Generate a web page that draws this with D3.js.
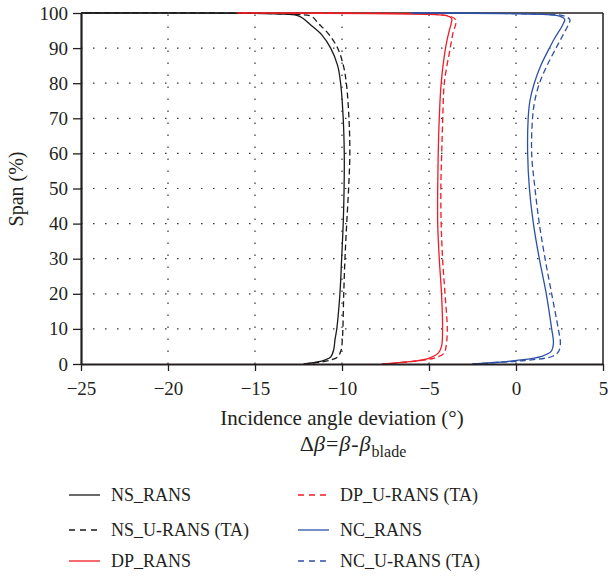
<!DOCTYPE html>
<html><head><meta charset="utf-8">
<script src="https://cdn.jsdelivr.net/npm/d3@7"></script>
<style>body{margin:0;background:#fff}svg{display:block}text{font-family:"Liberation Serif","Times New Roman",serif;fill:#231f20}</style>
</head><body><svg id="c" width="608" height="578"></svg>
<script>
const xTicks = [-25, -20, -15, -10, -5, 0, 5];
const yTicks = [0, 10, 20, 30, 40, 50, 60, 70, 80, 90, 100];

const nsRansSpan = [0, 0.5, 1.2, 2, 4, 7, 10, 20, 30, 40, 50, 60, 70, 80, 85, 90, 93.7, 96.6, 98.5, 99.3, 99.7, 100];
const nsRansVal  = [-12.2, -11.5, -10.95, -10.65, -10.48, -10.4, -10.3, -10.12, -10.02, -9.93, -9.88, -9.87, -9.93, -10.08, -10.25, -10.65, -11.15, -11.8, -12.25, -12.6, -13.5, -25];
const nsUSpan = [0, 0.5, 1.2, 2, 4, 7, 10, 20, 30, 40, 50, 60, 70, 80, 85, 90, 94.2, 97, 99, 99.6, 100];
const nsUVal  = [-12.2, -11.3, -10.6, -10.25, -10.05, -9.98, -9.95, -9.9, -9.83, -9.73, -9.62, -9.55, -9.6, -9.75, -9.92, -10.25, -10.8, -11.35, -11.75, -12.6, -25];
const dpRansSpan = [0, 0.5, 0.9, 1.7, 3.1, 5, 10, 20, 30, 40, 50, 60, 70, 80, 90, 94.7, 97.1, 98.5, 99.2, 99.6, 100];
const dpRansVal  = [-7.7, -6.5, -5.7, -4.98, -4.47, -4.28, -4.22, -4.28, -4.41, -4.5, -4.5, -4.47, -4.41, -4.3, -4.05, -3.85, -3.72, -3.7, -3.95, -5, -16];
const dpUSpan = [0, 0.5, 1, 1.7, 3, 5, 10, 20, 30, 40, 50, 60, 70, 80, 90, 94.7, 97.1, 98.2, 99, 99.6, 100];
const dpUVal  = [-7.7, -6.4, -5.5, -4.7, -4.15, -4.02, -3.95, -4.08, -4.22, -4.3, -4.32, -4.27, -4.21, -4.12, -3.78, -3.6, -3.45, -3.48, -3.75, -4.6, -16];
const ncRansSpan = [0, 0.5, 1, 2.2, 3.6, 6, 10, 20, 30, 40, 50, 60, 70, 75, 80, 85, 90, 92.8, 96.6, 98.2, 99.1, 99.6, 100];
const ncRansVal  = [-2.5, -1.0, 0.04, 1.48, 2.02, 2.15, 2.05, 1.74, 1.34, 1.0, 0.77, 0.67, 0.7, 0.8, 1.05, 1.42, 1.92, 2.22, 2.68, 2.8, 2.5, 1.5, -6];
const ncUSpan = [0, 0.5, 1, 2.2, 3.6, 6, 10, 20, 30, 40, 50, 60, 70, 75, 80, 85, 90, 92.8, 96.6, 98, 99.1, 99.6, 100];
const ncUVal  = [-2.5, -0.9, 0.5, 2.1, 2.45, 2.55, 2.43, 2.05, 1.67, 1.34, 1.09, 0.9, 0.95, 1.08, 1.35, 1.78, 2.3, 2.6, 3.0, 3.1, 2.8, 1.8, -6];

const seriesNames = ["NS_RANS", "NS_U-RANS (TA)", "DP_RANS", "DP_U-RANS (TA)", "NC_RANS", "NC_U-RANS (TA)"];
const seriesSpans = [nsRansSpan, nsUSpan, dpRansSpan, dpUSpan, ncRansSpan, ncUSpan];
const seriesVals = [nsRansVal, nsUVal, dpRansVal, dpUVal, ncRansVal, ncUVal];
const seriesColors = ["#1a1a1a", "#1a1a1a", "#ee1c25", "#ee1c25", "#2d4fa6", "#2d4fa6"];
const seriesDashed = [false, true, false, true, false, true];

const svg = d3.select("#c");
const L = 81, R = 603, T = 13, B = 364;
const x = d3.scaleLinear().domain([-25, 5]).range([L, R]);
const y = d3.scaleLinear().domain([0, 100]).range([B, T]);

// grid
const g = svg.append("g");
g.selectAll(".gx").data(xTicks.filter(d => d > -25 && d < 5)).join("line")
  .attr("x1", d => x(d)).attr("x2", d => x(d)).attr("y1", B).attr("y2", T)
  .attr("stroke", "#333").attr("stroke-width", 1.2).attr("stroke-dasharray", "1.5,10.5");
g.selectAll(".gy").data(yTicks.filter(d => d > 0 && d < 100)).join("line")
  .attr("x1", L).attr("x2", R).attr("y1", d => y(d)).attr("y2", d => y(d))
  .attr("stroke", "#333").attr("stroke-width", 1.2).attr("stroke-dasharray", "1.5,10.5");

// frame top/right
svg.append("line").attr("x1", L).attr("x2", R).attr("y1", T).attr("y2", T).attr("stroke", "#231f20").attr("stroke-width", 1.5);
svg.append("line").attr("x1", R).attr("x2", R).attr("y1", T).attr("y2", B).attr("stroke", "#231f20").attr("stroke-width", 1.5);

// curves
const line = d3.line().curve(d3.curveCatmullRom.alpha(0.5));
seriesNames.forEach((n, i) => {
  const pts = seriesSpans[i].map((s, j) => [x(seriesVals[i][j]), y(s)]);
  svg.append("path").attr("d", line(pts)).attr("fill", "none")
    .attr("stroke", seriesColors[i]).attr("stroke-width", 1.3)
    .attr("stroke-dasharray", seriesDashed[i] ? "6,3.5" : null);
});

// axes
const fmt = d => d < 0 ? "\u2212" + Math.abs(d) : String(d);
const xa = svg.append("g").attr("transform", `translate(0,${B})`)
  .call(d3.axisBottom(x).tickValues(xTicks).tickFormat(fmt).tickSize(7).tickSizeOuter(0));
const ya = svg.append("g").attr("transform", `translate(${L},0)`)
  .call(d3.axisLeft(y).tickValues(yTicks).tickSize(8).tickSizeOuter(0));
[xa, ya].forEach(a => {
  a.select(".domain").attr("stroke", "#231f20").attr("stroke-width", 2.2);
  a.selectAll(".tick line").attr("stroke", "#231f20").attr("stroke-width", 1.3);
  a.selectAll("text").attr("font-size", 19).attr("font-family", '"Liberation Serif",serif').attr("fill", "#231f20");
});
xa.selectAll("text").attr("dy", "1.1em");
ya.selectAll("text").attr("x", -13);

// titles
svg.append("text").attr("transform", "translate(23,189) rotate(-90)").attr("text-anchor", "middle")
  .attr("font-size", 20).text("Span (%)");
svg.append("text").attr("x", 342).attr("y", 425).attr("text-anchor", "middle")
  .attr("font-size", 21).text("Incidence angle deviation (°)");
const t2 = svg.append("text").attr("x", 353).attr("y", 451).attr("text-anchor", "middle").attr("font-size", 22);
t2.append("tspan").text("\u0394");
t2.append("tspan").attr("font-style", "italic").text("\u03b2");
t2.append("tspan").attr("dx", 1).text("=");
t2.append("tspan").attr("dx", 1).attr("font-style", "italic").text("\u03b2");
t2.append("tspan").attr("dx", 1).text("-");
t2.append("tspan").attr("dx", 1).attr("font-style", "italic").text("\u03b2");
t2.append("tspan").attr("font-size", 16).attr("dy", 6).attr("dx", 1).text("blade");

// legend
const legX = [69, 298], legY = [495, 530, 561];
seriesNames.forEach((n, i) => {
  const col = i < 3 ? 0 : 1, row = i % 3;
  const lx = legX[col], ly = legY[row];
  svg.append("line").attr("x1", lx).attr("x2", lx + 31).attr("y1", ly).attr("y2", ly)
    .attr("stroke", seriesColors[i]).attr("stroke-width", 1.3)
    .attr("stroke-dasharray", seriesDashed[i] ? "6,5" : null);
  svg.append("text").attr("x", lx + 42).attr("y", ly + 6).attr("font-size", 18).text(n);
});
</script></body></html>
